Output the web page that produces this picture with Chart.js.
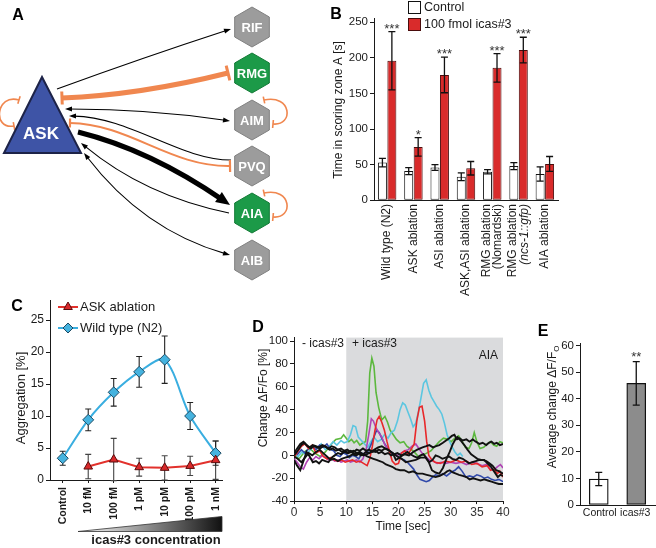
<!DOCTYPE html>
<html>
<head>
<meta charset="utf-8">
<script src="https://cdn.jsdelivr.net/npm/chart.js@4.4.1/dist/chart.umd.min.js"></script>
<style>
  html, body { margin: 0; padding: 0; background: #fff; }
  #wrap { position: relative; width: 656px; height: 548px; overflow: hidden; }
  #wrap canvas { position: absolute; left: 0; top: 0; }
</style>
</head>
<body>
<div id="wrap">
  <canvas id="cA" width="656" height="548"></canvas>
  <canvas id="cB" width="656" height="548"></canvas>
  <canvas id="cC" width="656" height="548"></canvas>
  <canvas id="cD" width="656" height="548"></canvas>
  <canvas id="cE" width="656" height="548"></canvas>
</div>
<script>
/* ---- A: ASK network ---- */
const nodeNames = ['RIF', 'RMG', 'AIM', 'PVQ', 'AIA', 'AIB'];
const nodeX = [252, 252, 252, 252, 252, 252];
const nodeY = [27, 73, 120, 166, 213, 260];
const nodeGreen = [false, true, false, false, true, false];

/* ---- B: time in scoring zone ---- */
const bLabels = [['Wild type (N2)'], ['ASK ablation'], ['ASI ablation'], ['ASK,ASI ablation'],
  ['RMG ablation', '(Nomardski)'], ['RMG ablation', '(ncs-1::gfp)'], ['AIA ablation']];
const bControl = [53, 41, 46, 33, 40, 48, 37];
const bControlErr = [6, 5, 4, 5.5, 3, 5, 10];
const bIcas = [196, 75, 176, 45, 186, 211, 51];
const bIcasErr = [41, 13, 25, 9.5, 20, 18, 10.5];
const bStars = ['***', '*', '***', '', '***', '***', ''];
const bTicks = [0, 50, 100, 150, 200, 250];

/* ---- C: aggregation dose response ---- */
const cLabels = ['Control', '10 fM', '100 fM', '1 pM', '10 pM', '100 pM', '1 nM'];
const cWild = [3.4, 9.4, 13.7, 16.9, 18.8, 10.0, 4.2];
const cWildErr = [1.1, 1.7, 2.15, 2.4, 3.7, 2.1, 1.9];
const cAsk = [null, 2.1, 3.2, 2.0, 1.9, 2.2, 3.1];
const cAskErr = [null, 1.9, 3.3, 1.4, 1.9, 1.5, 3.0];
const cTicks = [0, 5, 10, 15, 20, 25];

/* ---- D: AIA calcium traces [time s, dF/F %] ---- */
const traceGreen = [[0,0],[1,-3],[2,3],[3,6],[4,2],[5,-1],[6,3],[7,9],[8,14],[9,15],[9.5,18],[10,15],[10.5,12],[11,14],[11.5,11],[12,13],[12.6,9],[13.2,11],[13.7,12],[14.1,30],[14.5,72],[14.9,85],[15.3,78],[15.7,55],[16.2,42],[16.8,31],[17.4,34],[17.9,29],[18.4,22],[19,18],[19.6,14],[20.3,11],[21,12],[21.6,8],[22.2,6],[23,3],[23.8,-1],[24.6,0],[25.4,2],[26.2,4],[27,8],[27.8,12],[28.6,15],[29.4,14],[30.1,12],[30.8,15],[31.5,17],[32.2,12],[32.8,7],[33.5,6],[34,11],[34.5,20],[35,12],[35.6,6],[36.3,7],[37,10],[37.6,12],[38.2,9],[38.8,8],[39.4,12],[40,11]];
const traceCyan = [[0,2],[0.8,-1],[1.5,3],[2.3,1],[3,4],[3.7,8],[4.5,6],[5.2,10],[6,5],[6.8,8],[7.5,12],[8.2,9],[9,13],[9.6,11],[10.2,12],[10.8,18],[11.3,26],[11.8,25],[12.3,16],[12.9,13],[13.5,10],[14.1,7],[14.7,12],[15.3,16],[16,12],[16.7,14],[17.3,18],[18,15],[18.6,20],[19.2,22],[19.8,30],[20.3,40],[20.8,46],[21.3,44],[21.8,38],[22.3,32],[22.8,25],[23.3,28],[23.8,38],[24.3,50],[24.8,63],[25.3,66],[25.8,57],[26.3,51],[26.8,47],[27.3,43],[27.8,40],[28.3,36],[28.8,28],[29.3,18],[29.8,12],[30.3,7],[30.8,3],[31.3,0],[31.8,2],[32.3,-1]];
const traceRed = [[0,-2],[0.7,3],[1.4,8],[2.1,10],[2.8,6],[3.5,9],[4.2,2],[4.9,4],[5.6,-1],[6.3,-3],[7,-2],[7.7,-4],[8.4,-5],[9.1,-4],[9.8,-6],[10.5,-5],[11.2,-4],[11.9,-6],[12.6,-5],[13.3,-7],[14,-9],[14.5,-3],[15,8],[15.5,22],[15.9,31],[16.3,34],[16.8,29],[17.3,22],[17.8,12],[18.3,3],[18.8,-5],[19.4,-8],[20,-7],[20.6,2],[21.2,4],[21.8,1],[22.4,5],[23,10],[23.5,30],[24,42],[24.5,43],[25,30],[25.4,12],[25.8,0],[26.4,-4],[27,-6],[28,-7],[29,-5],[30,-6],[31,-4],[32,-6],[33,-5],[34,-8],[35,-7],[36,-10],[37,-9],[37.6,-13],[38.3,-12],[38.9,-16],[39.4,-14],[40,-19]];
const traceMagenta = [[0,-3],[0.6,-6],[1.2,-10],[1.8,-12],[2.4,-6],[3,-2],[3.6,-4],[4.2,-1],[4.8,-3],[5.4,0],[6,-2],[6.6,-4],[7.2,-3],[7.8,-5],[8.4,-4],[9,-6],[9.6,-5],[10.2,-4],[10.8,-6],[11.4,-5],[12,-4],[12.6,-6],[13.2,-3],[13.8,5],[14.3,18],[14.8,32],[15.2,30],[15.7,24],[16.2,20],[16.8,16],[17.4,9],[18,6],[18.6,3],[19.2,1],[19.8,0],[20.5,2],[21.2,4],[21.9,5],[22.6,8],[23.3,10],[23.9,6],[24.5,2],[25.2,-1],[25.9,-4],[26.6,-5],[27.4,-7],[28.2,-6],[29,-7],[30,-6],[31,-7],[32,-6],[33,-8],[34,-6],[35,-7],[36,-9],[36.8,-8],[37.5,-12],[38.2,-13],[38.9,-10],[39.5,-8],[40,-11]];
const traceBlue = [[0,3],[0.7,1],[1.4,5],[2.1,2],[2.8,6],[3.5,8],[4.2,5],[4.9,9],[5.6,7],[6.3,10],[7,5],[7.6,4],[8.2,0],[8.8,-1],[9.4,2],[10,1],[10.6,-2],[11.2,0],[11.8,-1],[12.4,-3],[13,2],[13.6,0],[14.2,4],[14.8,10],[15.3,16],[15.8,22],[16.3,20],[16.9,14],[17.5,9],[18.1,5],[18.7,2],[19.3,1],[19.9,-1],[20.5,-3],[21.1,-4],[21.7,-6],[22.3,-9],[22.9,-12],[23.5,-17],[24.1,-21],[24.7,-22],[25.3,-23],[25.9,-22],[26.5,-19],[27.1,-17],[27.8,-18],[28.5,-16],[29.2,-18],[30,-15],[30.8,-13],[31.5,-10],[32.2,-14],[32.9,-19],[33.6,-18],[34.3,-19],[35,-17],[35.7,-18],[36.4,-20],[37.1,-19],[37.8,-21],[38.5,-22],[39.2,-21],[40,-23]];
const traceK1 = [[0,-4],[0.6,-9],[1.2,-13],[1.8,-5],[2.4,3],[3,-1],[3.6,-6],[4.2,-5],[4.8,-7],[5.4,-4],[6,-5],[6.6,-6],[7.2,-2],[7.8,0],[8.4,2],[9,1],[9.6,3],[10.2,2],[10.8,4],[11.4,3],[12,5],[12.6,4],[13.2,6],[13.8,4],[14.4,5],[15,3],[15.6,4],[16.2,2],[16.8,3],[17.4,1],[18,2],[18.6,0],[19.2,1],[19.8,2],[20.5,0],[21.2,1],[22,0],[22.8,3],[23.6,5],[24.6,7],[25.3,8],[25.9,9],[26.6,7],[27.2,8],[27.8,9],[28.5,11],[29.1,13],[29.7,15],[30.2,17],[30.7,18],[31.2,14],[31.7,15],[32.3,13],[33,14],[33.6,12],[34.2,14],[34.8,12],[35.5,10],[36.1,11],[36.8,9],[37.3,11],[37.8,12],[38.3,10],[38.8,11],[39.4,9],[40,10]];
const traceK2 = [[0,2],[0.6,6],[1.2,10],[1.8,12],[2.4,9],[3,7],[3.6,9],[4.2,8],[4.8,7],[5.4,9],[6,8],[6.6,6],[7.2,8],[7.8,7],[8.4,5],[9,6],[9.6,4],[10.2,5],[10.8,3],[11.4,4],[12,2],[12.6,3],[13.2,1],[13.8,3],[14.4,2],[15,4],[15.6,3],[16.2,5],[16.8,4],[17.4,6],[18,5],[18.6,3],[19.2,1],[19.8,-1],[20.6,-3],[21.4,-6],[22.3,-5],[23.3,-4],[24.2,-2],[25.2,-2],[25.8,-6],[26.4,-13],[27.1,-15],[27.8,-16],[28.5,-11],[29.1,-4],[29.8,3],[30.4,10],[30.9,14],[31.3,16],[31.9,13],[32.6,9],[33.2,5],[33.9,1],[34.5,-1],[35.1,-3],[35.8,-4],[36.4,-4],[37,-7],[37.7,-10],[38.3,-14],[39,-19],[39.5,-17],[40,-18]];
const traceK3 = [[0,0],[0.7,4],[1.4,9],[2,11],[2.6,8],[3.2,6],[3.8,8],[4.4,7],[5,6],[5.6,8],[6.2,7],[6.8,5],[7.4,6],[8,4],[8.6,5],[9.2,3],[9.8,4],[10.4,2],[11,3],[11.6,1],[12.2,2],[12.8,0],[13.4,1],[14,-1],[14.6,-2],[15.2,-3],[15.8,-4],[16.4,-5],[17,-6],[17.6,-8],[18.2,-9],[18.8,-10],[19.5,-12],[20.3,-13],[21.1,-13],[22,-15],[22.8,-14],[23.6,-16],[24.6,-16],[25.4,-17],[26.2,-18],[27.1,-19],[27.9,-18],[28.7,-16],[29.3,-14],[29.8,-13],[30.4,-15],[31,-16],[31.6,-17],[32.3,-18],[33,-19],[33.6,-21],[34.3,-20],[35,-21],[35.7,-22],[36.4,-21],[37.1,-22],[37.8,-23],[38.5,-24],[39.2,-25],[40,-25]];
const traceK4 = [[0,-1],[0.7,-3],[1.4,-6],[2.1,-2],[2.8,2],[3.5,0],[4.2,3],[4.9,5],[5.6,2],[6.3,-1],[7,-4],[7.7,-3],[8.4,-5],[9.1,-3],[9.8,-2],[10.5,-1],[11.2,1],[11.9,0],[12.6,2],[13.3,0],[14,1],[14.7,3],[15.4,5],[16.1,7],[16.8,8],[17.5,6],[18.2,4],[18.9,2],[19.5,-4],[20.2,-2],[21,1],[21.7,3],[22.3,1],[23,-1],[23.6,-2],[24.2,0],[24.8,1],[25.4,-3],[25.9,-6],[26.5,-4],[27.1,0],[27.7,-1],[28.4,-3],[29,-2],[29.7,-1],[30.3,-3],[31,-4],[31.6,-2],[32.3,-3],[32.9,-5],[33.5,-7],[34.1,-6],[34.8,-5],[35.5,-4],[36.1,-4],[36.8,-5],[37.4,-7],[38,-9],[38.7,-13],[39.3,-14],[40,-16]];
const dTicksX = [0, 5, 10, 15, 20, 25, 30, 35, 40];
const dTicksY = [-40, -20, 0, 20, 40, 60, 80, 100];

/* ---- E: average change ---- */
const eLabels = ['Control', 'icas#3'];
const eMean = [9.8, 45.8];
const eErr = [2.5, 8.2];
const eStars = ['', '**'];
const eTicks = [0, 10, 20, 30, 40, 50, 60];

/* ========================================================= */
const FONT = '"Liberation Sans", Arial, Helvetica, sans-serif';
const INK = '#1a1a1a';
const ORANGE = '#f0874f';
const YW = 40; // fixed width of every y-axis box (labels are clipped to it)

function area(l, t, r, b, xh){ return { padding: { left: l - YW, top: t, right: 656 - r, bottom: 548 - b - (xh || 0) } }; }
function fitW(s){ s.width = YW; }
function yAxis(min, max, ticks, size){
  return {
    type: 'linear', min, max, afterFit: fitW,
    afterBuildTicks: s => { s.ticks = ticks.map(v => ({ value: v })); },
    grid: { drawOnChartArea: false, drawTicks: true, tickLength: 4, color: INK, lineWidth: 1 },
    border: { display: true, color: INK, width: 1 },
    ticks: { font: { family: FONT, size: size || 11 }, color: INK, padding: 2 }
  };
}
const baseOpts = { responsive: false, animation: false, events: [],
  plugins: { legend: { display: false }, tooltip: { enabled: false } } };

function txt(ctx, s, x, y, font, align, color, base){
  ctx.save(); ctx.font = font; ctx.fillStyle = color || INK;
  ctx.textAlign = align || 'left'; ctx.textBaseline = base || 'middle';
  ctx.fillText(s, x, y); ctx.restore();
}
function vtxt(ctx, s, x, y, font, align){
  ctx.save(); ctx.translate(x, y); ctx.rotate(-Math.PI / 2);
  ctx.font = font; ctx.fillStyle = INK; ctx.textAlign = align || 'center'; ctx.textBaseline = 'middle';
  ctx.fillText(s, 0, 0); ctx.restore();
}
function errBar(ctx, x, yTop, yBot, cap, color, lw){
  ctx.save(); ctx.strokeStyle = color || INK; ctx.lineWidth = lw || 1.2;
  ctx.beginPath();
  ctx.moveTo(x, yTop); ctx.lineTo(x, yBot);
  ctx.moveTo(x - cap, yTop); ctx.lineTo(x + cap, yTop);
  ctx.moveTo(x - cap, yBot); ctx.lineTo(x + cap, yBot);
  ctx.stroke(); ctx.restore();
}
function letter(ctx, s, x, y){ txt(ctx, s, x, y, 'bold 16px ' + FONT, 'center', '#000'); }

/* ---------------- A ---------------- */
function head(ctx, tip, from, len, wid){
  const a = Math.atan2(tip[1] - from[1], tip[0] - from[0]);
  ctx.save(); ctx.translate(tip[0], tip[1]); ctx.rotate(a);
  ctx.beginPath(); ctx.moveTo(0, 0); ctx.lineTo(-len, -wid / 2); ctx.lineTo(-len, wid / 2); ctx.closePath();
  ctx.fill(); ctx.restore();
}
function tee(ctx, at, from, half){
  const a = Math.atan2(at[1] - from[1], at[0] - from[0]);
  ctx.save(); ctx.translate(at[0], at[1]); ctx.rotate(a);
  ctx.beginPath(); ctx.moveTo(0, -half); ctx.lineTo(0, half); ctx.stroke(); ctx.restore();
}
function back(tip, from, d){
  const a = Math.atan2(tip[1] - from[1], tip[0] - from[0]);
  return [tip[0] - d * Math.cos(a), tip[1] - d * Math.sin(a)];
}
function quad(ctx, a, c, b){ ctx.beginPath(); ctx.moveTo(a[0], a[1]); ctx.quadraticCurveTo(c[0], c[1], b[0], b[1]); ctx.stroke(); }
function cubic(ctx, a, c1, c2, b){ ctx.beginPath(); ctx.moveTo(a[0], a[1]); ctx.bezierCurveTo(c1[0], c1[1], c2[0], c2[1], b[0], b[1]); ctx.stroke(); }

const network = { id: 'network', afterDatasetsDraw(chart){
  const ctx = chart.ctx, sx = chart.scales.x, sy = chart.scales.y;
  const P = (x, y) => [sx.getPixelForValue(x), sy.getPixelForValue(y)];
  ctx.save(); ctx.lineCap = 'butt';

  // black thin edges
  ctx.strokeStyle = '#000'; ctx.fillStyle = '#000'; ctx.lineWidth = 1.1;
  let a = P(57, 89), c = P(145, 57), b = P(231, 29);
  quad(ctx, a, c, back(b, c, 5)); head(ctx, b, c, 7, 5);
  a = P(65, 109); c = P(150, 109); b = P(230, 121);
  quad(ctx, back(a, c, 5), c, back(b, c, 5)); head(ctx, b, c, 7, 5); head(ctx, a, c, 7, 5);
  a = P(231, 160); let c1 = P(180, 160), c2 = P(130, 117); b = P(69, 116);
  cubic(ctx, a, c1, c2, back(b, c2, 5)); head(ctx, b, c2, 7, 5);
  a = P(229, 213); c = P(145, 196); b = P(81, 143);
  quad(ctx, a, c, back(b, c, 5)); head(ctx, b, c, 7, 5);
  a = P(84, 153); c = P(143, 230); b = P(230, 255);
  quad(ctx, back(a, c, 5), c, back(b, c, 5)); head(ctx, b, c, 7, 5); head(ctx, a, c, 7, 5);

  // thick ASK -> AIA
  ctx.lineWidth = 5;
  a = P(78, 132); c = P(150, 150); b = P(230, 205);
  quad(ctx, a, c, back(b, c, 9)); head(ctx, b, c, 14, 12);

  // orange inhibitory edges
  ctx.strokeStyle = ORANGE;
  ctx.lineWidth = 5;
  a = P(62, 98); c = P(140, 95); b = P(228, 73);
  quad(ctx, a, c, b);
  ctx.lineWidth = 3; tee(ctx, b, c, 7.5); tee(ctx, a, c, 6.5);
  ctx.lineWidth = 2;
  a = P(70, 123); c1 = P(130, 124); c2 = P(170, 167); b = P(230, 166);
  cubic(ctx, a, c1, c2, b); ctx.lineWidth = 2.2; tee(ctx, b, c2, 6); tee(ctx, a, c1, 4.5);
  ctx.lineWidth = 1.6;
  // self loops
  a = P(19, 100); c1 = P(-4, 93); c2 = P(-8, 130); b = P(14, 126);
  cubic(ctx, a, c1, c2, b); tee(ctx, a, c1, 4); tee(ctx, b, c2, 4);
  [2, 4].forEach(i => {
    const y0 = nodeY[i];
    a = P(264, y0 - 20); c1 = P(292, y0 - 26); c2 = P(294, y0 + 6); b = P(273, y0 + 4);
    cubic(ctx, a, c1, c2, b); tee(ctx, a, c1, 3.5); tee(ctx, b, c2, 4);
  });

  // ASK triangle
  const t1 = P(42, 77), t2 = P(4, 153), t3 = P(81, 153);
  ctx.beginPath(); ctx.moveTo(t1[0], t1[1]); ctx.lineTo(t2[0], t2[1]); ctx.lineTo(t3[0], t3[1]); ctx.closePath();
  ctx.fillStyle = '#3e54a6'; ctx.fill(); ctx.strokeStyle = '#1d2348'; ctx.lineWidth = 2; ctx.stroke();
  const ak = P(41, 134);
  txt(ctx, 'ASK', ak[0], ak[1], 'bold 17px ' + FONT, 'center', '#fff');

  // hexagon nodes
  const meta = chart.getDatasetMeta(0);
  meta.data.forEach((el, i) => {
    const r = 20;
    ctx.beginPath();
    for (let k = 0; k < 6; k++){
      const ang = -Math.PI / 2 + k * Math.PI / 3;
      const px = el.x + r * Math.cos(ang), py = el.y + r * Math.sin(ang);
      k ? ctx.lineTo(px, py) : ctx.moveTo(px, py);
    }
    ctx.closePath();
    ctx.fillStyle = nodeGreen[i] ? '#1c9a48' : '#9c9c9c'; ctx.fill();
    ctx.strokeStyle = nodeGreen[i] ? '#137a36' : '#808080'; ctx.lineWidth = 1; ctx.stroke();
    txt(ctx, nodeNames[i], el.x, el.y + 1, 'bold 13px ' + FONT, 'center', '#fff');
  });
  ctx.restore();
  letter(ctx, 'A', 18, 16);
}};

new Chart(document.getElementById('cA'), {
  type: 'scatter',
  data: { datasets: [{ data: nodeNames.map((n, i) => ({ x: nodeX[i], y: nodeY[i] })), pointRadius: 0 }] },
  options: Object.assign({}, baseOpts, {
    layout: { padding: 0 },
    scales: { x: { display: false, min: 0, max: 656 }, y: { display: false, min: 0, max: 548, reverse: true } }
  }),
  plugins: [network]
});

/* ---------------- B ---------------- */
const bDecor = { id: 'bDecor', afterDatasetsDraw(chart){
  const ctx = chart.ctx, y = chart.scales.y, x = chart.scales.x;
  [[bControl, bControlErr], [bIcas, bIcasErr]].forEach((pair, di) => {
    chart.getDatasetMeta(di).data.forEach((el, i) => {
      const v = pair[0][i], e = pair[1][i];
      errBar(ctx, el.x, y.getPixelForValue(v + e), y.getPixelForValue(v - e), 3.5, '#111', 1.3);
      if (di === 1 && bStars[i]) txt(ctx, bStars[i], el.x, y.getPixelForValue(v + e) + 1, '13px ' + FONT, 'center', '#333', 'alphabetic');
    });
  });
  bLabels.forEach((lines, i) => {
    const cx = x.getPixelForValue(i);
    lines.forEach((s, k) => {
      const off = (k - (lines.length - 1) / 2) * 11.5;
      const it = (i === 5 && k === 1) ? 'italic ' : '';
      ctx.save(); ctx.translate(cx + off, 204); ctx.rotate(-Math.PI / 2);
      ctx.font = it + '12px ' + FONT; ctx.fillStyle = INK; ctx.textAlign = 'right'; ctx.textBaseline = 'middle';
      ctx.fillText(s, 0, 0); ctx.restore();
    });
  });
  // legend
  ctx.save(); ctx.lineWidth = 1; ctx.strokeStyle = '#111';
  ctx.fillStyle = '#fff'; ctx.fillRect(408.5, 1.5, 12, 12); ctx.strokeRect(408.5, 1.5, 12, 12);
  ctx.fillStyle = '#d92b2b'; ctx.fillRect(408.5, 18.5, 12, 12); ctx.strokeStyle = '#4a0c0c'; ctx.strokeRect(408.5, 18.5, 12, 12);
  ctx.restore();
  txt(ctx, 'Control', 424, 8, '12.5px ' + FONT);
  txt(ctx, '100 fmol icas#3', 424, 25, '12.5px ' + FONT);
  vtxt(ctx, 'Time in scoring zone A [s]', 339, 110, '12px ' + FONT);
  letter(ctx, 'B', 336, 15);
}};

new Chart(document.getElementById('cB'), {
  type: 'bar',
  data: { labels: bLabels.map(l => l.join(' ')), datasets: [
    { data: bControl, backgroundColor: '#fff', borderColor: '#111', borderWidth: 1, borderSkipped: false },
    { data: bIcas, backgroundColor: '#d92b2b', borderColor: '#4a0c0c', borderWidth: 1, borderSkipped: false }
  ]},
  options: Object.assign({}, baseOpts, {
    layout: area(374, 18, 558, 200.3),
    datasets: { bar: { categoryPercentage: 0.72, barPercentage: 0.95 } },
    scales: {
      x: { type: 'category', offset: true, afterFit: s => { s.height = 0; }, grid: { display: false }, border: { display: true, color: INK }, ticks: { display: false } },
      y: yAxis(0, 256, bTicks, 11.5)
    }
  }),
  plugins: [bDecor]
});

/* ---------------- C ---------------- */
const cDecor = {
  id: 'cDecor',
  beforeDatasetsDraw(chart){
    const ctx = chart.ctx, y = chart.scales.y;
    chart.data.datasets.forEach((ds, di) => {
      chart.getDatasetMeta(di).data.forEach((el, i) => {
        const p = ds.data[i];
        errBar(ctx, el.x, y.getPixelForValue(p.y + p.e), y.getPixelForValue(p.y - p.e), 3, di ? '#222' : '#444', 1.1);
      });
    });
  },
  afterDraw(chart){
    const ctx = chart.ctx, x = chart.scales.x, H = Chart.helpers;
    cLabels.forEach((s, i) => {
      ctx.save(); ctx.translate(x.getPixelForValue(i), 487); ctx.rotate(-Math.PI / 2);
      ctx.font = 'bold 10.5px ' + FONT; ctx.fillStyle = INK; ctx.textAlign = 'right'; ctx.textBaseline = 'middle';
      ctx.fillText(s, 0, 0); ctx.restore();
    });
    // concentration wedge
    ctx.save();
    const g = ctx.createLinearGradient(x.getPixelForValue(0.6), 0, x.getPixelForValue(6.25), 0);
    g.addColorStop(0, '#ffffff'); g.addColorStop(1, '#111');
    ctx.beginPath(); ctx.moveTo(78, 531.5); ctx.lineTo(222, 516.5); ctx.lineTo(222, 531.5); ctx.closePath();
    ctx.fillStyle = g; ctx.fill(); ctx.strokeStyle = '#333'; ctx.lineWidth = 0.8; ctx.stroke();
    ctx.restore();
    txt(ctx, 'icas#3 concentration', 156, 540, 'bold 13px ' + FONT, 'center');
    // legend
    const items = [[0, 307, 'ASK ablation'], [1, 328, 'Wild type (N2)']];
    items.forEach(([di, ly, label]) => {
      const ds = chart.data.datasets[di];
      ctx.save(); ctx.strokeStyle = ds.borderColor; ctx.lineWidth = 2;
      ctx.beginPath(); ctx.moveTo(58, ly); ctx.lineTo(78, ly); ctx.stroke();
      ctx.fillStyle = ds.pointBackgroundColor; ctx.strokeStyle = ds.pointBorderColor; ctx.lineWidth = 1;
      H.drawPoint(ctx, { pointStyle: ds.pointStyle, radius: 5, rotation: 0, borderWidth: 1 }, 68, ly);
      ctx.restore();
      txt(ctx, label, 80, ly, '13px ' + FONT);
    });
    vtxt(ctx, 'Aggregation [%]', 21, 398, '13px ' + FONT);
    letter(ctx, 'C', 17, 307);
  }
};

new Chart(document.getElementById('cC'), {
  type: 'scatter',
  data: { datasets: [
    { data: cAsk.map((v, i) => ({ x: i, y: v, e: cAskErr[i] })).filter(p => p.y !== null),
      showLine: true, borderColor: '#e2312c', borderWidth: 2, tension: 0,
      pointStyle: 'triangle', pointRadius: 5, pointBackgroundColor: '#d8282a', pointBorderColor: '#5a0d0d', pointBorderWidth: 1 },
    { data: cWild.map((v, i) => ({ x: i, y: v, e: cWildErr[i] })),
      showLine: true, borderColor: '#3aaee0', borderWidth: 2, tension: 0.3,
      pointStyle: 'rectRot', pointRadius: 5.5, pointBackgroundColor: '#45b3df', pointBorderColor: '#1d4a63', pointBorderWidth: 1 }
  ]},
  options: Object.assign({}, baseOpts, {
    layout: area(50, 300.8, 222, 480),
    scales: {
      x: { type: 'linear', min: -0.5, max: 6.25, afterFit: s => { s.height = 0; },
        afterBuildTicks: s => { s.ticks = cLabels.map((l, i) => ({ value: i })); },
        grid: { drawOnChartArea: false, drawTicks: true, tickLength: 3, color: INK },
        border: { display: true, color: INK }, ticks: { display: false } },
      y: yAxis(0, 28, cTicks, 12)
    }
  }),
  plugins: [cDecor]
});

/* ---------------- D ---------------- */
const dTraces = [
  [traceK1, '#111'], [traceK2, '#111'], [traceK3, '#111'], [traceK4, '#111'],
  [traceRed, '#e8282a'], [traceMagenta, '#b044b4'], [traceBlue, '#3049aa'],
  [traceCyan, '#5cc6e0'], [traceGreen, '#5cb83e']
];
const dDecor = {
  id: 'dDecor',
  beforeDatasetsDraw(chart){
    const ctx = chart.ctx, x = chart.scales.x, a = chart.chartArea;
    ctx.save(); ctx.fillStyle = '#dadbdd';
    const x0 = x.getPixelForValue(10), x1 = x.getPixelForValue(40);
    ctx.fillRect(x0, a.top, x1 - x0, a.bottom - a.top - 0.5);
    ctx.restore();
  },
  afterDraw(chart){
    const ctx = chart.ctx;
    txt(ctx, '- icas#3', 302, 344, '12px ' + FONT);
    txt(ctx, '+ icas#3', 352, 344, '12px ' + FONT);
    txt(ctx, 'AIA', 498, 356, '12px ' + FONT, 'right');
    txt(ctx, 'Time [sec]', 403, 527, '12px ' + FONT, 'center');
    vtxt(ctx, 'Change \u0394F/Fo [%]', 264, 398, '12px ' + FONT);
    letter(ctx, 'D', 258, 328);
  }
};

new Chart(document.getElementById('cD'), {
  type: 'scatter',
  data: { datasets: dTraces.map(([tr, col]) => ({
    data: tr.map(([t, v]) => ({ x: t, y: v })), showLine: true, pointRadius: 0,
    borderColor: col, borderWidth: col === '#111' ? 1.9 : 1.6, tension: 0 })) },
  options: Object.assign({}, baseOpts, {
    layout: area(294, 337.6, 503, 501.1, 18),
    scales: {
      x: { type: 'linear', min: 0, max: 40, afterFit: s => { s.height = 18; },
        afterBuildTicks: s => { s.ticks = dTicksX.map(v => ({ value: v })); },
        grid: { drawOnChartArea: false, drawTicks: true, tickLength: 3, color: INK },
        border: { display: true, color: INK },
        ticks: { font: { family: FONT, size: 12 }, color: '#333', padding: 1, maxRotation: 0, autoSkip: false } },
      y: yAxis(-40, 103, dTicksY, 11.5)
    }
  }),
  plugins: [dDecor]
});

/* ---------------- E ---------------- */
const eDecor = { id: 'eDecor', afterDatasetsDraw(chart){
  const ctx = chart.ctx, y = chart.scales.y, x = chart.scales.x;
  chart.getDatasetMeta(0).data.forEach((el, i) => {
    const top = y.getPixelForValue(eMean[i] + eErr[i]);
    errBar(ctx, el.x, top, y.getPixelForValue(eMean[i] - eErr[i]), 3.5, '#111', 1.3);
    if (eStars[i]) txt(ctx, eStars[i], el.x, top - 1, '13px ' + FONT, 'center', '#333', 'alphabetic');
    txt(ctx, eLabels[i], el.x + (i ? -1 : 1), 513, '10.5px ' + FONT, 'center');
  });
  ctx.save(); ctx.translate(553, 407); ctx.rotate(-Math.PI / 2);
  ctx.font = '12px ' + FONT; ctx.fillStyle = INK; ctx.textBaseline = 'middle';
  const main = 'Average change \u0394F/F', w = ctx.measureText(main).width;
  ctx.fillText(main, -(w + 6) / 2, 0);
  ctx.font = '8px ' + FONT; ctx.fillText('O', (w - 6) / 2, 4);
  ctx.restore();
  letter(ctx, 'E', 543, 332);
}};

new Chart(document.getElementById('cE'), {
  type: 'bar',
  data: { labels: eLabels, datasets: [{ data: eMean,
    backgroundColor: ['#ffffff', '#8c8c8c'], borderColor: '#111', borderWidth: 1.3, borderSkipped: false, barThickness: 19 }] },
  options: Object.assign({}, baseOpts, {
    layout: area(580, 343, 655, 505),
    scales: {
      x: { type: 'category', offset: true, afterFit: s => { s.height = 0; }, grid: { display: false },
        border: { display: true, color: INK }, ticks: { display: false } },
      y: yAxis(0, 61, eTicks, 11.5)
    }
  }),
  plugins: [eDecor]
});
</script>
</body>
</html>
